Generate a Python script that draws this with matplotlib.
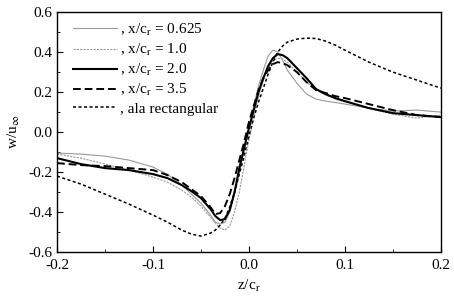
import matplotlib
matplotlib.use('Agg')
import matplotlib.pyplot as plt
from matplotlib.ticker import MultipleLocator, FormatStrFormatter

plt.rcParams['font.family'] = ['Liberation Serif', 'DejaVu Serif']
plt.rcParams['mathtext.fontset'] = 'stix'

# z/c_r positions and w/u_inf readings
z = [-0.2, -0.175, -0.15, -0.125, -0.1, -0.085, -0.07, -0.06, -0.05, -0.04,
     -0.035, -0.03, -0.025, -0.02, -0.015, -0.01, -0.005, 0.0, 0.005, 0.01,
     0.015, 0.02, 0.025, 0.03, 0.035, 0.04, 0.05, 0.06, 0.07, 0.08,
     0.09, 0.1, 0.125, 0.15, 0.175, 0.2]

w_0625 = [-0.105, -0.11, -0.12, -0.14, -0.175, -0.21, -0.265, -0.31, -0.355, -0.415,
          -0.45, -0.46, -0.45, -0.40, -0.31, -0.20, -0.09, 0.02, 0.13, 0.23,
          0.31, 0.38, 0.41, 0.40, 0.36, 0.31, 0.245, 0.19, 0.165, 0.155,
          0.148, 0.14, 0.12, 0.105, 0.11, 0.10]
w_10 = [-0.11, -0.13, -0.16, -0.19, -0.225, -0.25, -0.29, -0.325, -0.37, -0.425,
        -0.455, -0.48, -0.49, -0.47, -0.40, -0.30, -0.17, -0.04, 0.08, 0.18,
        0.26, 0.32, 0.355, 0.37, 0.365, 0.35, 0.30, 0.25, 0.21, 0.185,
        0.165, 0.15, 0.12, 0.09, 0.07, 0.085]
w_20 = [-0.13, -0.16, -0.18, -0.19, -0.21, -0.23, -0.265, -0.295, -0.33, -0.385,
        -0.42, -0.44, -0.435, -0.39, -0.30, -0.18, -0.08, 0.02, 0.11, 0.20,
        0.27, 0.33, 0.37, 0.39, 0.385, 0.37, 0.32, 0.27, 0.215, 0.19,
        0.17, 0.155, 0.12, 0.095, 0.085, 0.075]
w_35 = [-0.155, -0.165, -0.17, -0.18, -0.19, -0.215, -0.25, -0.285, -0.32, -0.375,
        -0.41, -0.405, -0.37, -0.31, -0.23, -0.14, -0.05, 0.05, 0.13, 0.21,
        0.27, 0.31, 0.34, 0.35, 0.345, 0.335, 0.30, 0.25, 0.21, 0.195,
        0.18, 0.17, 0.14, 0.11, 0.085, 0.075]
w_rect = [-0.22, -0.26, -0.31, -0.36, -0.415, -0.45, -0.49, -0.51, -0.52, -0.505,
          -0.49, -0.465, -0.43, -0.375, -0.30, -0.21, -0.12, -0.02, 0.07, 0.15,
          0.22, 0.29, 0.35, 0.40, 0.43, 0.45, 0.465, 0.47, 0.468, 0.455,
          0.435, 0.41, 0.35, 0.30, 0.26, 0.22]

fig = plt.figure(figsize=(4.54, 3.03), dpi=100)
ax = fig.add_axes([0.1256, 0.168, 0.8454, 0.792])

ax.plot(z, w_0625, color='#999999', lw=0.8, label=r', x/c$_\mathrm{r}$ = 0.625')
ax.plot(z, w_10, color='#999999', lw=0.8, dashes=(2, 1),
        label=r', x/c$_\mathrm{r}$ = 1.0')
ax.plot(z, w_20, color='black', lw=1.5, label=r', x/c$_\mathrm{r}$ = 2.0')
ax.plot(z, w_35, color='black', lw=1.4, dashes=(4, 2),
        label=r', x/c$_\mathrm{r}$ = 3.5')
ax.plot(z, w_rect, color='black', lw=1.1, dashes=(2, 1.6),
        label=', ala rectangular')

ax.set_xlim(-0.2, 0.2)
ax.set_ylim(-0.6, 0.6)
ax.xaxis.set_major_locator(MultipleLocator(0.1))
ax.xaxis.set_minor_locator(MultipleLocator(0.05))
ax.yaxis.set_major_locator(MultipleLocator(0.2))
ax.yaxis.set_minor_locator(MultipleLocator(0.1))
ax.xaxis.set_major_formatter(FormatStrFormatter('%.1f'))
ax.yaxis.set_major_formatter(FormatStrFormatter('%.1f'))
ax.tick_params(which='both', direction='in', labelsize=11)
ax.tick_params(axis='x', pad=5)
ax.tick_params(axis='y', pad=3)
ax.tick_params(which='major', length=4)
ax.tick_params(which='minor', length=2)
for s in ax.spines.values():
    s.set_linewidth(1.0)

ax.set_xlabel(r'z/c$_\mathrm{r}$', fontsize=11, labelpad=4)
ax.set_ylabel(r'w/u$_\infty$', fontsize=11, labelpad=5)

# legend sits in the upper left corner, no frame
ax.legend(loc='upper left', frameon=False, fontsize=11, handlelength=2.9,
          handletextpad=0.2, labelspacing=0.26, borderaxespad=0.0,
          bbox_to_anchor=(0.025, 0.985))

fig.savefig('out.png', dpi=100)
